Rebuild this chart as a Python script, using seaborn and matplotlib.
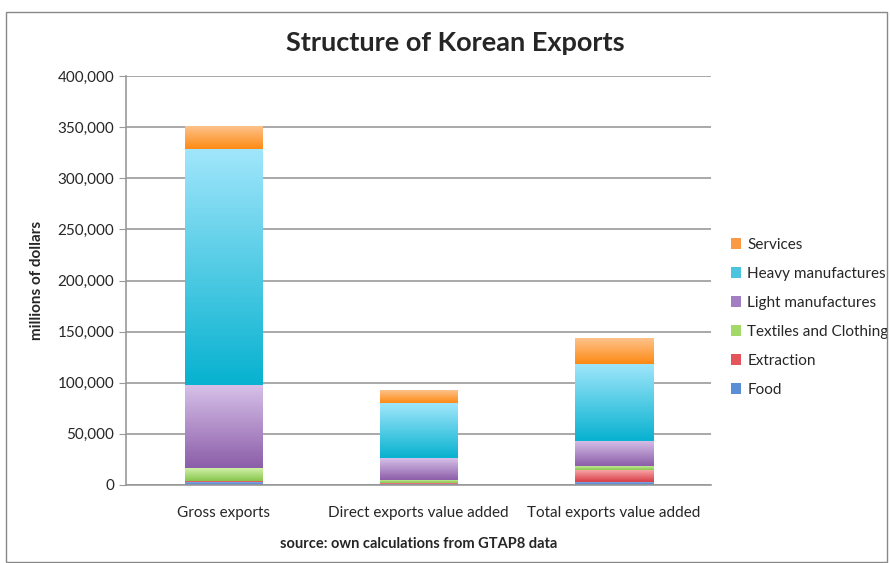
import matplotlib
matplotlib.use('Agg')
import matplotlib.pyplot as plt
from matplotlib.colors import LinearSegmentedColormap
import seaborn as sns
import numpy as np

# data (millions of dollars)
categories = ['Gross exports', 'Direct exports value added', 'Total exports value added']
series = ['Food', 'Extraction', 'Textiles and Clothing', 'Light manufactures',
          'Heavy manufactures', 'Services']
food = [3000, 1000, 3000]
extraction = [1000, 500, 11500]
textiles = [12500, 3500, 4000]
light = [81000, 21500, 24500]
heavy = [231000, 53500, 75500]
services = [22000, 12500, 25000]
values = [food, extraction, textiles, light, heavy, services]
colors = ['#5a8fd6', '#e4545b', '#a4d96a', '#a27ec2', '#4cc4de', '#fb9a45']
# gradient ends (top, bottom) for the Excel-like shading
tops = ['#93b6ea', '#f8a3a5', '#d0f0a6', '#d6c0e8', '#a0e6fb', '#fec28a']
bots = ['#4a7cc8', '#d73e48', '#88c64e', '#8c5ea9', '#08b2d0', '#fd8a14']
yticks = np.arange(0, 400001, 50000)

sns.set_style('white')
plt.rcParams['font.family'] = ['Lato', 'DejaVu Sans']

fig = plt.figure(figsize=(8.9, 5.63), dpi=100)
ax = fig.add_axes([126/890, 1 - 485/563, 585/890, 409/563])

bottom = np.zeros(len(categories))
for name, vals, col in zip(series, values, colors):
    sns.barplot(x=categories, y=vals, bottom=bottom, color=col, width=0.4,
                label=name, ax=ax, saturation=1, linewidth=0)
    bottom = bottom + np.array(vals)

# shade each segment with a vertical gradient
grad = np.linspace(0, 1, 64).reshape(-1, 1)
n = len(categories)
for i, patch in enumerate(ax.patches[:len(series) * n]):
    k = i // n
    x0, y0 = patch.get_x(), patch.get_y()
    w, h = patch.get_width(), patch.get_height()
    cmap = LinearSegmentedColormap.from_list('g', [bots[k], tops[k]])
    ax.imshow(grad, cmap=cmap, extent=(x0, x0 + w, y0, y0 + h), origin='lower',
              aspect='auto', zorder=patch.get_zorder() + 0.1, interpolation='bicubic')
ax.set_xlim(-0.5, 2.5)
ax.set_ylim(0, 400000)

ax.set_yticks(yticks)
ax.set_yticklabels([f'{v:,}' for v in yticks], fontsize=11)
ax.set_xticks(range(n))
ax.set_xticklabels(categories)
ax.tick_params(axis='x', length=0, labelsize=11, pad=15)
ax.set_xticks([-0.5, 0.5, 1.5, 2.5], minor=True)
ax.tick_params(axis='x', which='minor', length=6, color='#999999', width=1)
ax.tick_params(axis='y', length=5, color='#999999', left=True)
ax.yaxis.grid(True, color='#9a9a9a', linewidth=1.2)
ax.set_axisbelow(True)
for s in ['top', 'right']:
    ax.spines[s].set_visible(False)
for s in ['left', 'bottom']:
    ax.spines[s].set_color('#999999')
    ax.spines[s].set_linewidth(1.2)

ax.set_ylabel('millions of dollars', fontsize=11, fontweight='bold', labelpad=10)
ax.set_xlabel('source: own calculations from GTAP8 data', fontsize=10.5,
              fontweight='bold', labelpad=12)
fig.text(455/890, 1 - 43/563, 'Structure of Korean Exports', fontsize=19.5,
         fontweight='bold', ha='center', va='center')

handles, labels = ax.get_legend_handles_labels()
ax.legend(handles[::-1], labels[::-1], loc='center left', bbox_to_anchor=(1.01, 0.41),
          frameon=False, fontsize=11, handlelength=0.7, handleheight=0.7,
          handletextpad=0.4, labelspacing=0.98)

# outer chart frame
fig.patches.append(plt.Rectangle((6/890, 0.002), 0.99, 1 - 12/563 - 0.002,
                                 transform=fig.transFigure, fill=False,
                                 edgecolor='#888888', linewidth=1))

fig.savefig('out.png', dpi=100)
